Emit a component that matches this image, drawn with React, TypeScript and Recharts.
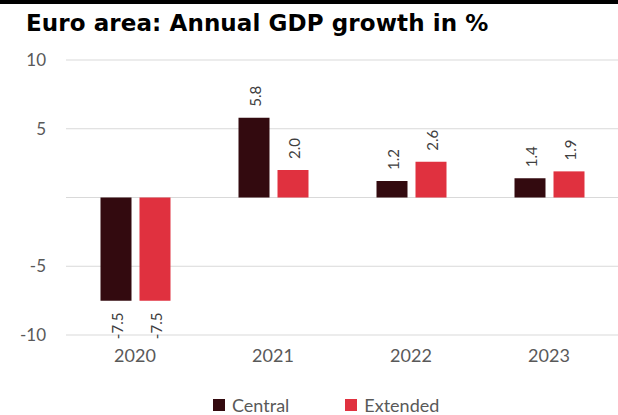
import React from 'react';
import { BarChart, Bar, XAxis, YAxis, CartesianGrid, Legend, LabelList } from 'recharts';

const years = ['2020', '2021', '2022', '2023'];
const central = [-7.5, 5.8, 1.2, 1.4];
const extended = [-7.5, 2.0, 2.6, 1.9];
const yTicks = [-10, -5, 0, 5, 10];

const CENTRAL_COLOR = '#330a0f';
const EXTENDED_COLOR = '#e0313f';
const FONT = 'Lato, "Open Sans", sans-serif';

const data = years.map((year, i) => ({ year, central: central[i], extended: extended[i] }));

// rotated value label, above positive bars and below negative ones
const ValueLabel = (props: any) => {
  const { x, y, width, height, value } = props;
  const cx = Number(x) + Number(width) / 2 + 1;
  const top = Math.min(Number(y), Number(y) + Number(height));
  const bottom = Math.max(Number(y), Number(y) + Number(height));
  const neg = Number(value) < 0;
  const ty = neg ? bottom + 12 : top - 11;
  return (
    <text
      x={cx}
      y={ty}
      transform={`rotate(-90, ${cx}, ${ty})`}
      textAnchor={neg ? 'end' : 'start'}
      dominantBaseline="central"
      fontSize={15}
      fontFamily={FONT}
      fill="#404040"
    >
      {Number(value).toFixed(1)}
    </text>
  );
};

const LegendContent = () => (
  <div style={{ display: 'flex', fontFamily: FONT, fontSize: 18, color: '#595959', paddingLeft: 213 }}>
    {[
      { name: 'Central', color: CENTRAL_COLOR },
      { name: 'Extended', color: EXTENDED_COLOR },
    ].map((item) => (
      <div key={item.name} style={{ display: 'flex', alignItems: 'center', marginRight: 56 }}>
        <span style={{ width: 12, height: 12, background: item.color, display: 'inline-block', marginRight: 7 }} />
        <span>{item.name}</span>
      </div>
    ))}
  </div>
);

export default function App() {
  return (
    <div style={{ position: 'fixed', left: 0, top: 0, width: 618, height: 415, background: '#fff', overflow: 'hidden' }}>
      <div style={{ position: 'absolute', left: 0, top: 0, width: 618, height: 4, background: '#000' }} />
      <div
        style={{
          position: 'absolute',
          left: 26,
          top: 10,
          fontFamily: '"DejaVu Sans", sans-serif',
          fontWeight: 700,
          fontSize: 23,
          color: '#000',
          letterSpacing: 0.1,
          whiteSpace: 'nowrap',
        }}
      >
        Euro area: Annual GDP growth in %
      </div>
      <BarChart
        width={618}
        height={415}
        data={data}
        margin={{ top: 60, right: 0, left: 0, bottom: 15 }}
        barCategoryGap="25%"
        barGap={8}
      >
        <CartesianGrid vertical={false} stroke="#d9d9d9" />
        <XAxis
          dataKey="year"
          axisLine={false}
          tickLine={false}
          tickMargin={8}
          height={40}
          tick={{ fontSize: 18, fill: '#595959', fontFamily: FONT }}
        />
        <YAxis
          domain={[-10, 10]}
          ticks={yTicks}
          width={66}
          axisLine={false}
          tickLine={false}
          tickMargin={14}
          tickFormatter={(v) => (v === 0 ? '' : String(v))}
          tick={{ fontSize: 17, fill: '#595959', fontFamily: FONT }}
        />
        <Legend
          verticalAlign="bottom"
          content={<LegendContent />}
          wrapperStyle={{ height: 25, top: 394, bottom: 'auto' }}
        />
        <Bar dataKey="central" name="Central" fill={CENTRAL_COLOR} isAnimationActive={false}>
          <LabelList dataKey="central" content={<ValueLabel />} />
        </Bar>
        <Bar dataKey="extended" name="Extended" fill={EXTENDED_COLOR} isAnimationActive={false}>
          <LabelList dataKey="extended" content={<ValueLabel />} />
        </Bar>
      </BarChart>
    </div>
  );
}
